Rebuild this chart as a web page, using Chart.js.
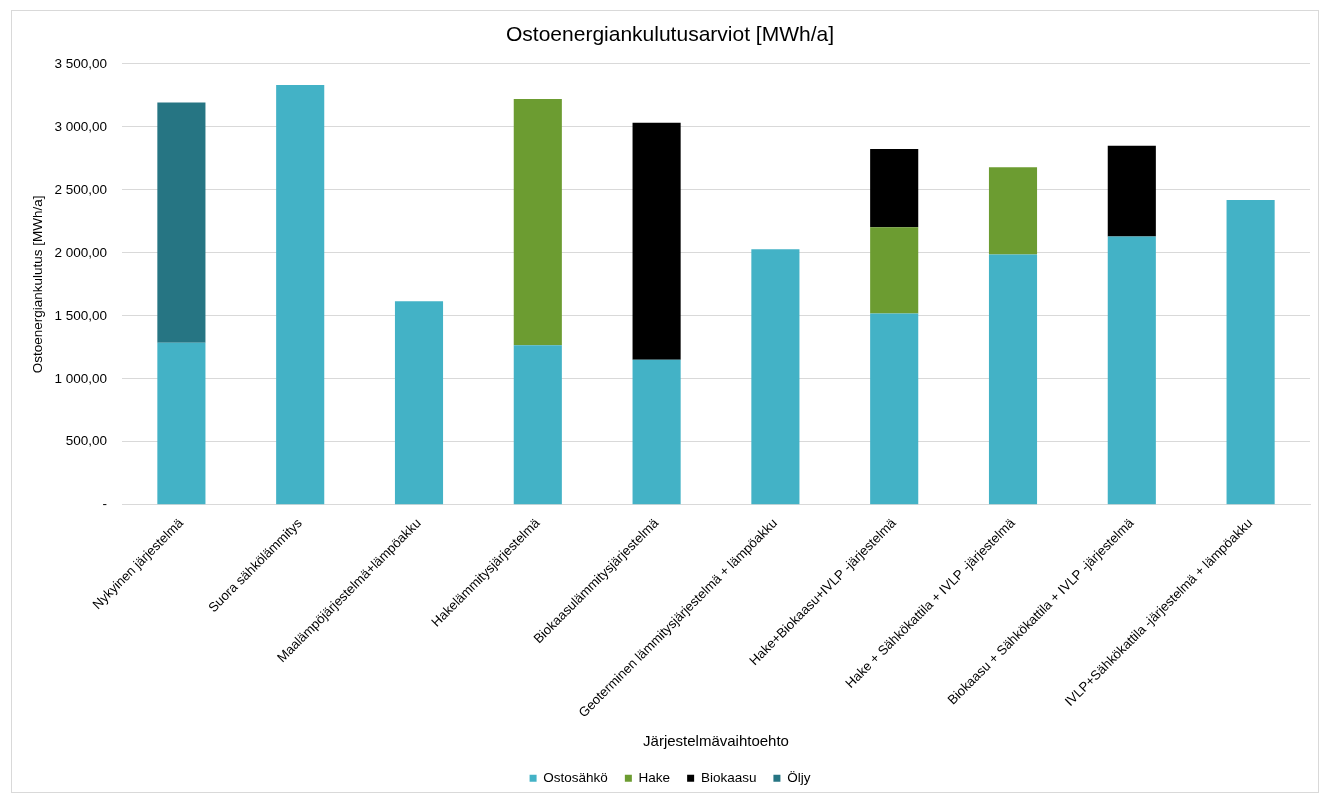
<!DOCTYPE html>
<html>
<head>
<meta charset="utf-8">
<script src="https://cdn.jsdelivr.net/npm/chart.js@4"></script>
<style>
  body { margin: 0; background: #fff; }
  #wrap { position: relative; width: 1320px; height: 794px; overflow: hidden; }
  #frame { position: absolute; left: 11px; top: 10px; width: 1306px; height: 781px; border: 1px solid #d9d9d9; }
  #chart { position: absolute; left: 0; top: 0; }
</style>
</head>
<body>
<div id="wrap">
  <div id="frame"></div>
  <canvas id="chart" width="1320" height="794"></canvas>
</div>
<script>
const categories = [
  "Nykyinen järjestelmä",
  "Suora sähkölämmitys",
  "Maalämpöjärjestelmä+lämpöakku",
  "Hakelämmitysjärjestelmä",
  "Biokaasulämmitysjärjestelmä",
  "Geoterminen lämmitysjärjestelmä + lämpöakku",
  "Hake+Biokaasu+IVLP -järjestelmä",
  "Hake + Sähkökattila + IVLP -järjestelmä",
  "Biokaasu + Sähkökattila + IVLP -järjestelmä",
  "IVLP+Sähkökattila -järjestelmä + lämpöakku"
];

const ostosahko = [1287, 3333, 1616, 1266, 1152, 2028, 1518, 1988, 2131, 2420];
const hake      = [0, 0, 0, 1956, 0, 0, 685, 693, 0, 0];
const biokaasu  = [0, 0, 0, 0, 1881, 0, 621, 0, 719, 0];
const oljy      = [1908, 0, 0, 0, 0, 0, 0, 0, 0, 0];

const yTicks = [0, 500, 1000, 1500, 2000, 2500, 3000, 3500];

function fiNumber(v) {
  if (v === 0) return "-";
  const parts = v.toFixed(2).split(".");
  const whole = parts[0].replace(/\B(?=(\d{3})+(?!\d))/g, " ");
  return whole + "," + parts[1];
}

Chart.defaults.font.family = "'Liberation Sans', Arial, sans-serif";
Chart.defaults.color = "#000";

const ctx = document.getElementById("chart").getContext("2d");
new Chart(ctx, {
  type: "bar",
  data: {
    labels: categories,
    datasets: [
      { label: "Ostosähkö", data: ostosahko, backgroundColor: "#43b2c6" },
      { label: "Hake", data: hake, backgroundColor: "#6c9c31" },
      { label: "Biokaasu", data: biokaasu, backgroundColor: "#000000" },
      { label: "Öljy", data: oljy, backgroundColor: "#267583" }
    ]
  },
  options: {
    responsive: false,
    animation: false,
    layout: { padding: { left: 30, right: 10, top: 22.4, bottom: -1 } },
    datasets: { bar: { categoryPercentage: 1, barPercentage: 0.405 } },
    plugins: {
      tooltip: { enabled: false },
      title: {
        display: true,
        text: "Ostoenergiankulutusarviot [MWh/a]",
        font: { size: 21, weight: "normal" },
        padding: { top: 0, bottom: 16.4 }
      },
      legend: {
        position: "bottom",
        labels: {
          font: { size: 13.5 },
          usePointStyle: true,
          pointStyle: "rect",
          boxWidth: 7,
          boxHeight: 7,
          padding: 17
        }
      }
    },
    scales: {
      x: {
        stacked: true,
        grid: { display: false },
        border: { color: "#d9d9d9" },
        ticks: { font: { size: 13.2 }, minRotation: 45, maxRotation: 45, autoSkip: false },
        title: {
          display: true,
          text: "Järjestelmävaihtoehto",
          font: { size: 15 },
          padding: { top: 8.5, bottom: 4 }
        }
      },
      y: {
        stacked: true,
        min: 0,
        max: 3500,
        afterBuildTicks: (scale) => { scale.ticks = yTicks.map((v) => ({ value: v })); },
        afterFit: (scale) => { scale.width = 92; },
        grid: { color: "#d9d9d9", drawTicks: false },
        border: { display: false },
        ticks: { font: { size: 13.5 }, padding: 15, callback: (v) => fiNumber(v) },
        title: {
          display: true,
          text: "Ostoenergiankulutus [MWh/a]",
          font: { size: 13.5 },
          padding: 0
        }
      }
    }
  }
});
</script>
</body>
</html>
